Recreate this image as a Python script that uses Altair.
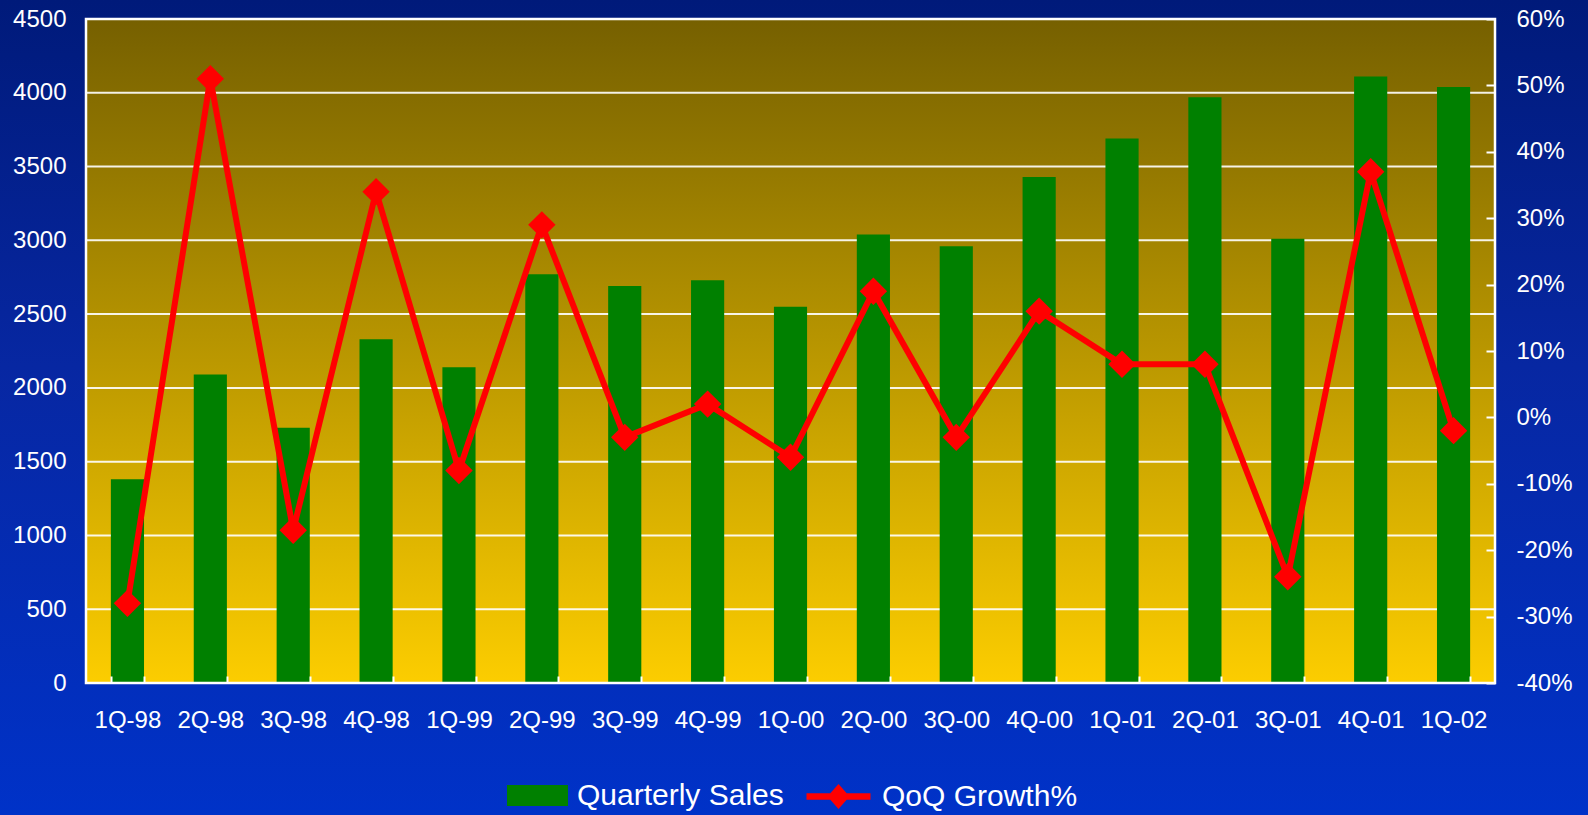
import altair as alt
import pandas as pd

# Quarterly sales and quarter-over-quarter growth
quarters = ["1Q-98", "2Q-98", "3Q-98", "4Q-98", "1Q-99", "2Q-99", "3Q-99", "4Q-99",
            "1Q-00", "2Q-00", "3Q-00", "4Q-00", "1Q-01", "2Q-01", "3Q-01", "4Q-01", "1Q-02"]
sales = [1380, 2090, 1730, 2330, 2140, 2770, 2690, 2730,
         2550, 3040, 2960, 3430, 3690, 3970, 3010, 4110, 4040]
growth_pct = [-28, 51, -17, 34, -8, 29, -3, 2,
              -6, 19, -3, 16, 8, 8, -24, 37, -2]

# Axis tick values
sales_ticks = [0, 500, 1000, 1500, 2000, 2500, 3000, 3500, 4000, 4500]
growth_ticks = [-40, -30, -20, -10, 0, 10, 20, 30, 40, 50, 60]

BAR_SERIES = "Quarterly Sales"
LINE_SERIES = "QoQ Growth%"

df = pd.DataFrame({
    "quarter": quarters,
    "sales": sales,
    "growth": growth_pct,
    "bar_series": BAR_SERIES,
    "line_series": LINE_SERIES,
})
grid_df = pd.DataFrame({"sales": sales_ticks})
one = pd.DataFrame({"k": [0]})

W, H = 1409, 664
FONT = "Liberation Sans"

x_enc = alt.X(
    "quarter:N", sort=quarters,
    scale=alt.Scale(paddingInner=0.6, paddingOuter=0.3),
    axis=alt.Axis(labelAngle=0, domain=False, tickBand="extent", tickSize=7,
                  offset=-7, labelPadding=25, tickColor="white", tickWidth=2,
                  title=None, zindex=1, grid=False),
)

sales_scale = alt.Scale(domain=[0, 4500], nice=False, zero=True)
sales_axis = alt.Axis(orient="left", values=sales_ticks, format="d", grid=False,
                      domain=False, ticks=False, tickSize=0, labelPadding=20,
                      title=None, zindex=1)
growth_scale = alt.Scale(domain=[-40, 60], nice=False, zero=False)
growth_axis = alt.Axis(orient="right", values=growth_ticks,
                       labelExpr="datum.value + '%'", grid=False, domain=False,
                       tickSize=9, tickColor="white", tickWidth=2, offset=-9,
                       labelPadding=21, title=None, zindex=1)

blue_bg = alt.Gradient(
    gradient="linear", x1=0, x2=0, y1=0, y2=1,
    stops=[alt.GradientStop(offset=0, color="#001a7a"),
           alt.GradientStop(offset=0.45, color="#0727a2"),
           alt.GradientStop(offset=1, color="#0032c8")],
)
gold_bg = alt.Gradient(
    gradient="linear", x1=0, x2=0, y1=0, y2=1,
    stops=[alt.GradientStop(offset=0, color="#766000"),
           alt.GradientStop(offset=1, color="#fccd00")],
)

background = alt.Chart(one).mark_rect(fill=blue_bg).encode(
    x=alt.value(-86), x2=alt.value(W + 93), y=alt.value(-19), y2=alt.value(H + 132)
)
plot_area = alt.Chart(one).mark_rect(fill=gold_bg).encode(
    x=alt.value(0), x2=alt.value(W), y=alt.value(0), y2=alt.value(H)
)

grid = alt.Chart(grid_df).mark_rule(color="white", strokeWidth=2, opacity=0.9).encode(
    y=alt.Y("sales:Q", scale=sales_scale, axis=sales_axis)
)

# Legend glyphs: a wide block for the bars, a line with a diamond for the growth series
bar_symbol = "M-1,-0.344H1V0.344H-1Z"
line_symbol = ("M-1,0H1M0,-0.24V0.24M0,-0.24L0.21,0L0,0.24L-0.21,0Z"
               "M0,-0.12L0.1,0L0,0.12L-0.1,0Z")

bars = alt.Chart(df).mark_bar().encode(
    x=x_enc,
    y=alt.Y("sales:Q", scale=sales_scale, axis=sales_axis),
    fill=alt.Fill("bar_series:N",
                  scale=alt.Scale(domain=[BAR_SERIES], range=["#008000"]),
                  legend=alt.Legend(orient="none", legendX=421, legendY=746,
                                    title=None, symbolType=bar_symbol,
                                    symbolSize=3721, symbolStrokeWidth=0,
                                    labelOffset=9, labelLimit=400)),
)

line = alt.Chart(df).mark_line(strokeWidth=6).encode(
    x=x_enc,
    y=alt.Y("growth:Q", scale=growth_scale, axis=growth_axis),
    stroke=alt.Stroke("line_series:N",
                      scale=alt.Scale(domain=[LINE_SERIES], range=["#ff0000"]),
                      legend=alt.Legend(orient="none", legendX=717, legendY=742,
                                        title=None, symbolType=line_symbol,
                                        symbolSize=4096, symbolStrokeWidth=6.5,
                                        labelOffset=8, labelLimit=400)),
)
points = alt.Chart(df).mark_point(shape="diamond", filled=True, size=750,
                                  color="#ff0000", opacity=1).encode(
    x=x_enc,
    y=alt.Y("growth:Q", scale=growth_scale, axis=growth_axis),
)

frame = alt.Chart(one).mark_rect(fillOpacity=0, stroke="white", strokeWidth=2.5).encode(
    x=alt.value(0), x2=alt.value(W), y=alt.value(0), y2=alt.value(H)
)

chart = alt.layer(
    background,
    plot_area,
    alt.layer(grid, bars),
    alt.layer(line, points),
    frame,
).resolve_scale(y="independent").properties(
    width=W, height=H, padding=0, background="#0a2aa8"
).configure_view(strokeWidth=0).configure_axis(
    labelFont=FONT, labelFontSize=24, labelColor="white"
).configure_legend(
    labelFont=FONT, labelFontSize=30, labelColor="white", padding=0
)

chart.save("out.html", embed_options={"renderer": "svg", "actions": False})
